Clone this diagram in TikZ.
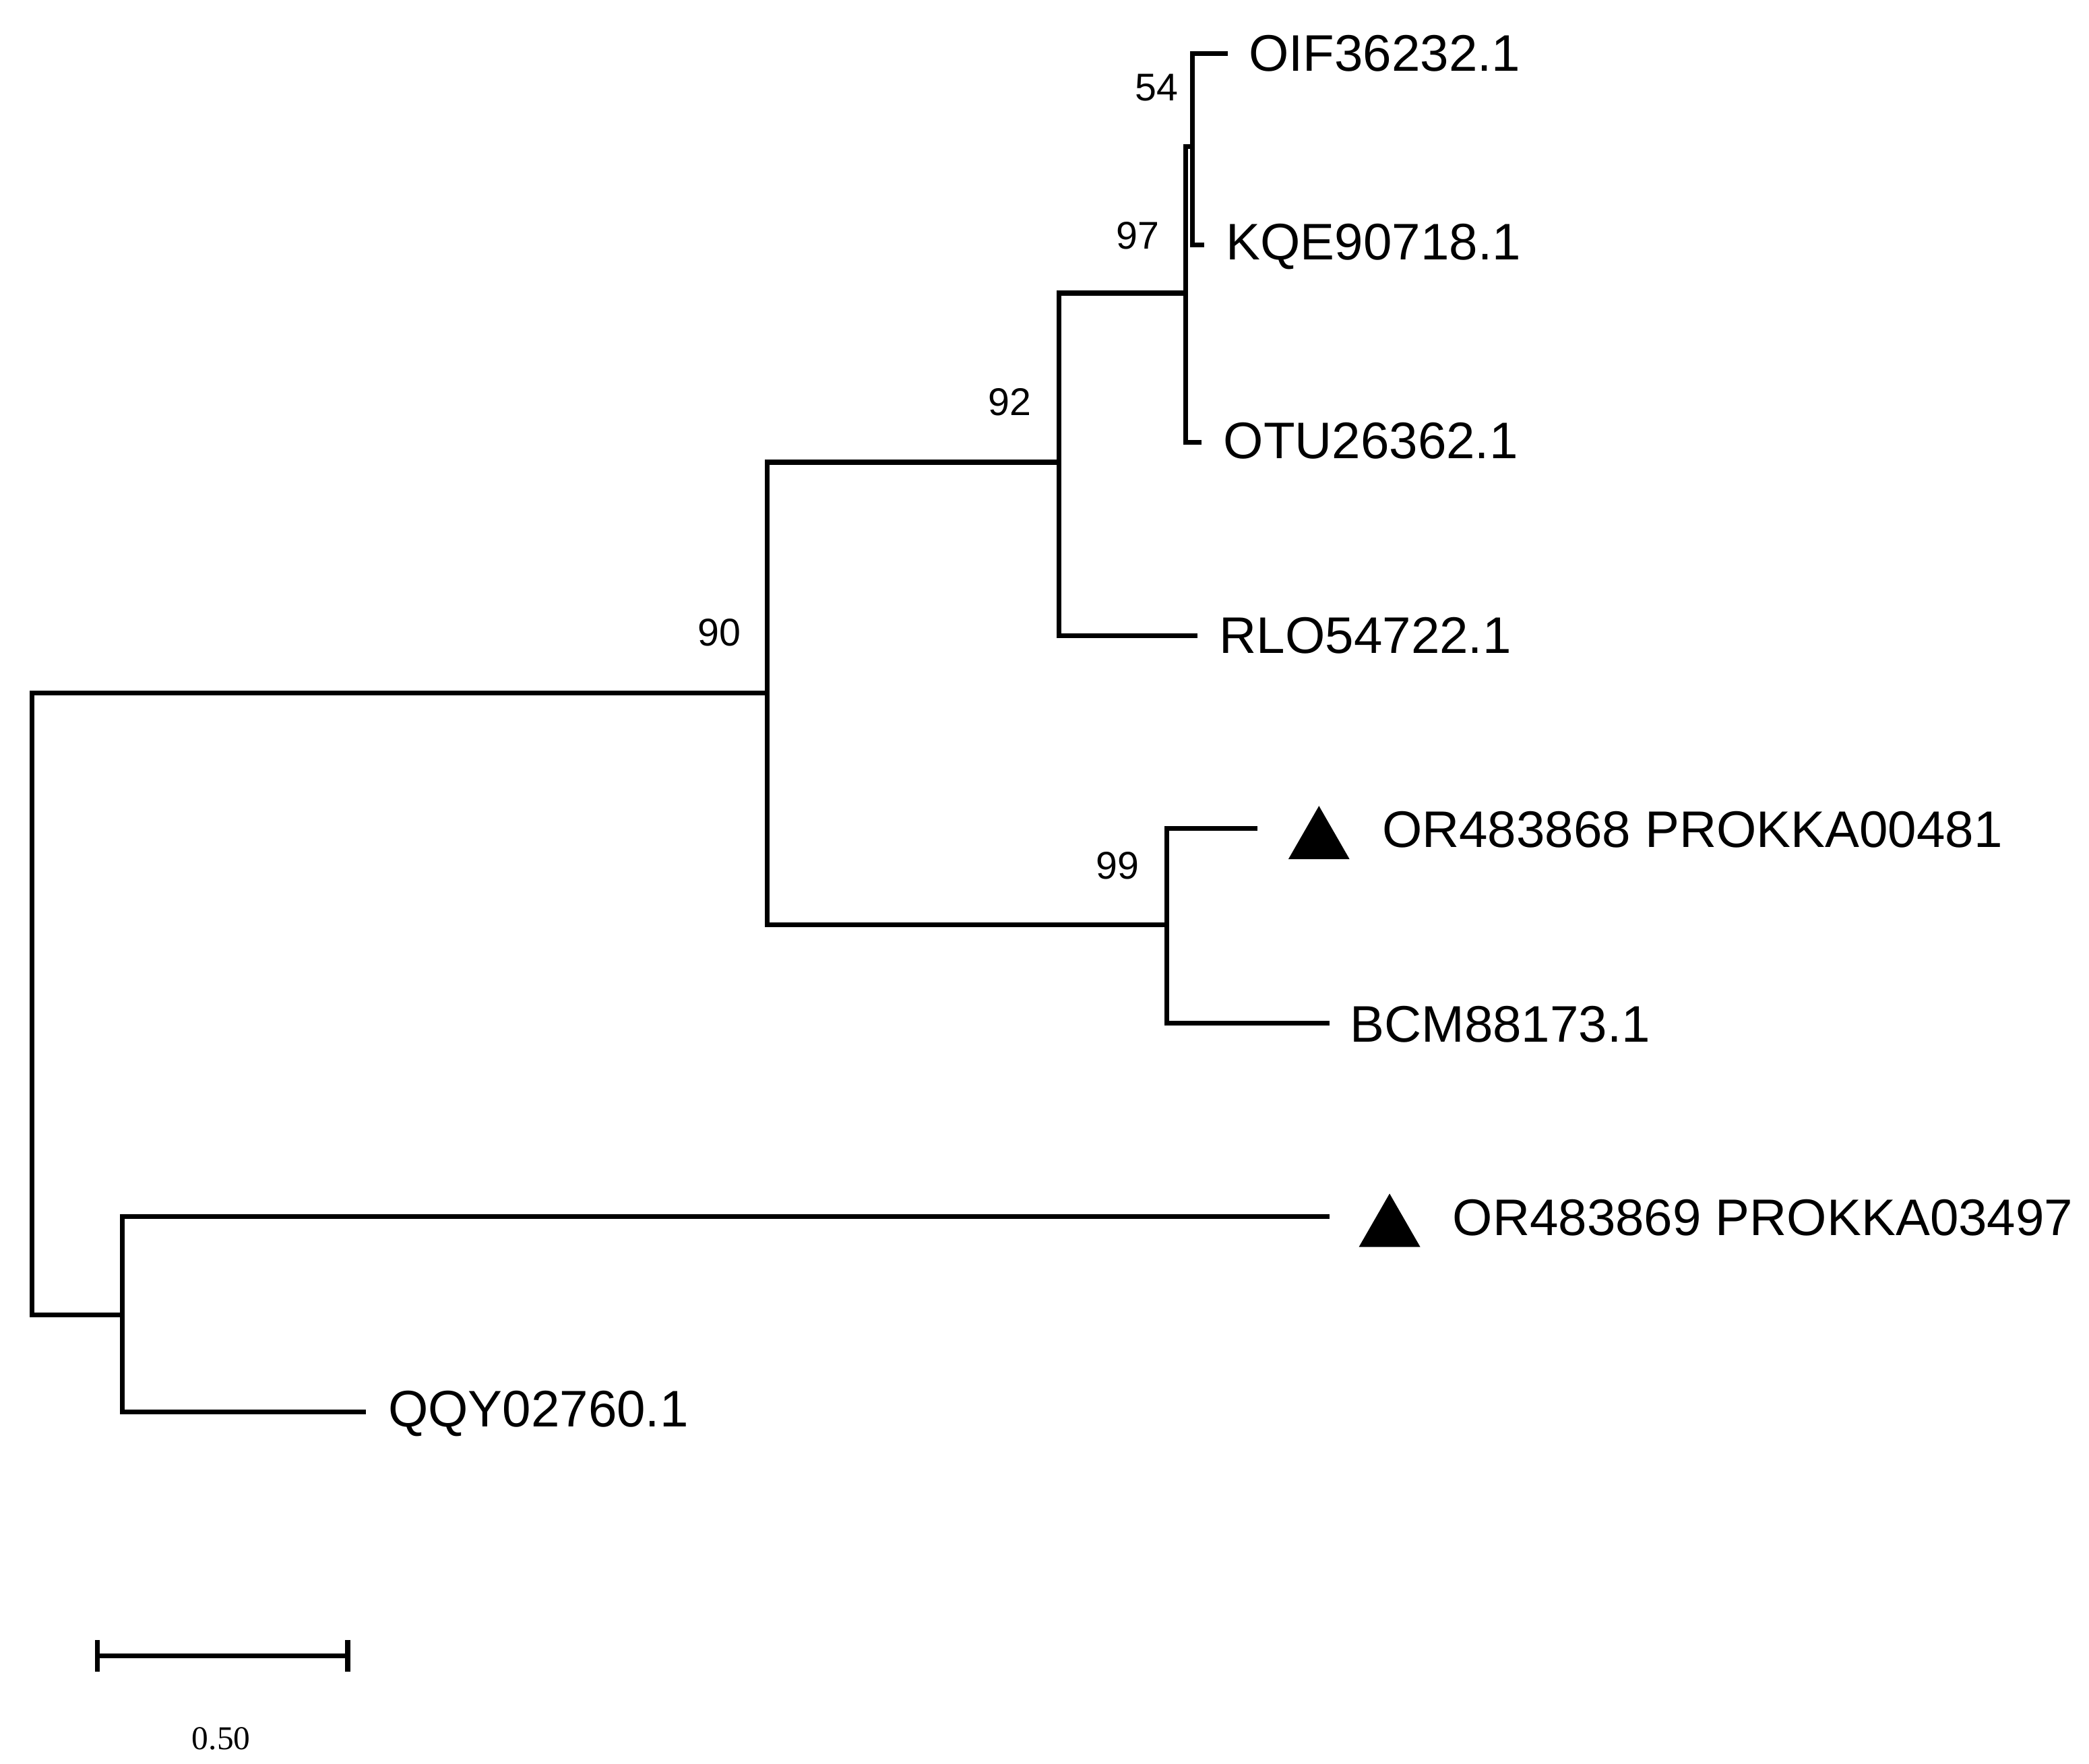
\documentclass[tikz,border=0pt]{standalone}
\usepackage{fontspec}
\setmainfont{Liberation Sans}
\newfontfamily\serifbar{Liberation Serif}
\begin{document}
\begin{tikzpicture}[x=0.5pt,y=-0.5pt,
  br/.style={line width=1.8pt,line cap=rect},
  lab/.style={anchor=west,inner sep=0pt,font=\fontsize{19.3}{19}\selectfont},
  bs/.style={anchor=center,inner sep=0pt,font=\fontsize{14.5}{14}\selectfont}]
\useasboundingbox (0,0) rectangle (1568,1324);
% tips
\coordinate (tOIF) at (920,40);
\coordinate (tKQE) at (902,184);
\coordinate (tOTU) at (900,332);
\coordinate (tRLO) at (897,477);
\coordinate (tOR1) at (942,622);
\coordinate (tBCM) at (996,768);
\coordinate (tOR2) at (996,913);
\coordinate (tQQY) at (273,1060);
% internal nodes
\draw[br] (tOIF) -| (895,184) -- (tKQE);
\draw[br] (895,110) -- (890,110) -- (890,332) -- (tOTU);
\draw[br] (890,220) -- (795,220) -- (795,477) -- (tRLO);
\draw[br] (795,347) -- (576,347) -- (576,694) -- (876,694);
\draw[br] (tOR1) -| (876,768) -- (tBCM);
\draw[br] (576,520) -- (24,520) -- (24,987) -- (92,987);
\draw[br] (tOR2) -| (92,1060) -- (tQQY);
% labels
\node[lab] (lOIF) at (937,40) {OIF36232.1};
\node[lab] (lKQE) at (920,185) {KQE90718.1};
\node[lab] (lOTU) at (918,331) {OTU26362.1};
\node[lab] (lRLO) at (915,477) {RLO54722.1};
\node[lab] (lOR1) at (1037,623) {OR483868 PROKKA00481};
\node[lab] (lBCM) at (1013,769) {BCM88173.1};
\node[lab] (lOR2) at (1090,914) {OR483869 PROKKA03497};
\node[lab] (lQQY) at (291,1061) {QQY02760.1};
% triangles
\fill (967,645) -- (1013,645) -- (990,605) -- cycle;
\fill (1020,936) -- (1066,936) -- (1043,896) -- cycle;
% bootstrap
\node[bs] (b54) at (868,66) {54};
\node[bs] (b97) at (854,177) {97};
\node[bs] (b92) at (758,302) {92};
\node[bs] (b90) at (540,475) {90};
\node[bs] (b99) at (839,650) {99};
% scale bar
\draw[br] (73,1243) -- (261,1243);
\draw[br] (73,1233) -- (73,1253);
\draw[br] (261,1233) -- (261,1253);
\node[anchor=center,inner sep=0pt,font=\serifbar\fontsize{12.5}{12}\selectfont] (sb) at (166,1305) {0.50};
\end{tikzpicture}
\end{document}
